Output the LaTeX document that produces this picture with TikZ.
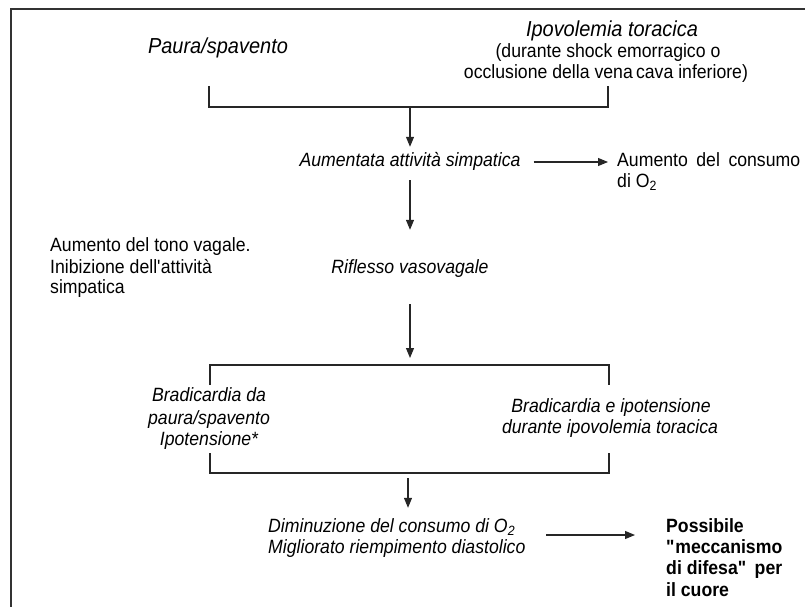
\documentclass[tikz,border=0pt]{standalone}
\usepackage{fontspec}
\setmainfont[FakeStretch=0.92]{Liberation Sans}
\usetikzlibrary{arrows.meta}
\newcommand\bodyfs{\fontsize{19.2}{23}\selectfont}
\newcommand\bigfs{\fontsize{21.7}{26}\selectfont}
\begin{document}
\begin{tikzpicture}[x=1pt,y=-1pt,
  txt/.style={inner sep=0pt, font=\bodyfs, text height=12.8pt, text depth=3.7pt},
  itx/.style={txt, font=\bodyfs\itshape},
  bigtxt/.style={inner sep=0pt, font=\bigfs\itshape, text height=14.5pt, text depth=4.2pt},
  bld/.style={txt, font=\bodyfs\bfseries},
  ln/.style={line width=1.1pt, black!85},
  arr/.style={ln, -{Triangle[length=10pt,width=8pt]}},
  frame/.style={line width=2pt, black!80}]
\useasboundingbox (0,0) rectangle (805,607);
% frame
\draw[frame] (11,607) -- (11,9) -- (805,9);
% top texts
\node[bigtxt] (paura) at (218,48) {Paura/spavento};
\node[bigtxt] (ipo) at (612,31) {Ipovolemia toracica};
\node[txt] (dur1) at (608,53) {(durante shock emorragico o};
\node[txt] (dur2) at (606,74) {occlusione della vena\,cava inferiore)};
% bracket 1
\coordinate (b1l) at (209,86);
\coordinate (b1r) at (608,86);
\coordinate (c1l) at (209,107);
\coordinate (c1r) at (608,107);
\coordinate (m1) at (410,107);
\draw[ln] (b1l) -- (c1l) -- (c1r) -- (b1r);
% middle
\node[itx] (aum) at (410,162) {Aumentata attività simpatica};
\node[txt, anchor=west] (cons1) at (617,162) {\hbox to 183pt{Aumento\hfill del\hfill consumo}};
\node[txt, anchor=west] (cons2) at (617,183) {di O\textsubscript{2}};
\draw[arr, shorten >=6.75pt] (m1) -- (aum.north);
\draw[arr] ([xshift=13pt]aum.east) -- ([xshift=-9pt]cons1.west);
\node[txt, anchor=west] (vag1) at (50,247) {Aumento del tono vagale.};
\node[txt, anchor=west] (vag2) at (50,269) {Inibizione dell\textquotesingle attività};
\node[txt, anchor=west] (vag3) at (50,289) {simpatica};
\node[itx] (rif) at (410,269) {Riflesso vasovagale};
\draw[arr, shorten <=9.75pt, shorten >=30.75pt] (aum.south) -- (rif.north);
% bracket 2
\coordinate (m2) at (410,365);
\coordinate (c2l) at (210,365);
\coordinate (c2r) at (609,365);
\coordinate (d2l) at (210,385);
\coordinate (d2r) at (609,385);
\draw[arr, shorten <=26.75pt, shorten >=7pt] (rif.south) -- (m2);
\draw[ln] (d2l) -- (c2l) -- (c2r) -- (d2r);
\node[itx] (br1) at (209,397) {Bradicardia da};
\node[itx] (br2) at (209,420) {paura/spavento};
\node[itx] (br3) at (209,441) {Ipotensione*};
\node[itx] (bi1) at (611,408) {Bradicardia e ipotensione};
\node[itx] (bi2) at (610,429) {durante ipovolemia toracica};
% bracket 3
\coordinate (e3l) at (210,453);
\coordinate (e3r) at (609,453);
\coordinate (f3l) at (210,473);
\coordinate (f3r) at (609,473);
\coordinate (m3) at (408,473);
\draw[ln] (e3l) -- (f3l) -- (f3r) -- (e3r);
% bottom
\node[itx, anchor=west] (dim1) at (268,528) {Diminuzione del consumo di O\textsubscript{2}};
\node[itx, anchor=west] (dim2) at (268,549) {Migliorato riempimento diastolico};
\draw[arr, shorten <=5pt, shorten >=11.75pt] (m3) -- (m3 |- dim1.north);
\node[bld, anchor=west] (pos1) at (666,528) {Possibile};
\node[bld, anchor=west] (pos2) at (666,549) {\textquotedbl meccanismo};
\node[bld, anchor=west] (pos3) at (666,570) {\hbox to 116pt{di difesa\textquotedbl\hfill per}};
\node[bld, anchor=west] (pos4) at (666,592) {il cuore};
\draw[arr] ([xshift=31pt,yshift=-7pt]dim1.east) -- ([xshift=-31pt,yshift=-7pt]pos1.west);
\end{tikzpicture}
\end{document}
